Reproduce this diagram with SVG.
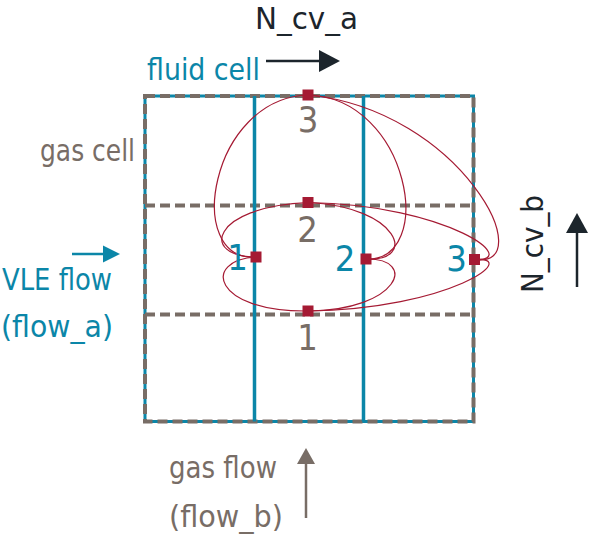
<svg xmlns="http://www.w3.org/2000/svg" width="589" height="538" viewBox="0 0 589 538">
<defs>
<style>
.lbl{font-family:"DejaVu Sans Condensed","DejaVu Sans","Liberation Sans",sans-serif;font-stretch:condensed;font-size:31px}
.dig{font-family:"DejaVu Sans Condensed","DejaVu Sans","Liberation Sans",sans-serif;font-stretch:condensed;font-size:36px;text-anchor:middle}
.gray{fill:#786d66}
.blue{fill:#0b86a8}
.dark{fill:#1c252c}
.node{fill:#a51a33}
.link{fill:none;stroke:#a51a33;stroke-width:1.2}
.dash{fill:none;stroke:#786d66;stroke-width:4;stroke-dasharray:10 5}
.fl{fill:none;stroke:#0b86a8;stroke-width:3.5}
</style>
</defs>
<rect width="589" height="538" fill="#ffffff"/>

<g id="grid">
<rect x="145" y="96" width="328.5" height="325.5" fill="none" stroke="#0b86a8" stroke-width="3"/>
<line class="dash" x1="145" y1="205.5" x2="473.5" y2="205.5"/>
<line class="dash" x1="145" y1="314.5" x2="473.5" y2="314.5"/>
<rect class="dash" x="145" y="96" width="328.5" height="325.5" stroke-width="4.5" stroke-dasharray="10 4"/>
<line class="fl" x1="254.5" y1="96" x2="254.5" y2="421.5"/>
<line class="fl" x1="363.5" y1="96" x2="363.5" y2="421.5"/>
</g>

<g id="connectors">
<path class="link" d="M308,95 C210,98 183,262 256,257"/>
<path class="link" d="M308,202.5 C210,207 200,257 256,257"/>
<path class="link" d="M308,311 C212,312 202,260 256,257"/>
<path class="link" d="M308,95 C410,98 437,262 366,259"/>
<path class="link" d="M308,202.5 C400,207 418,262 366,259"/>
<path class="link" d="M308,311 C400,310 418,258 366,259"/>
<path class="link" d="M308,95 C462,110 542,270 474.5,259.5"/>
<path class="link" d="M308,202.5 C450,205 522,262 474.5,259.5"/>
<path class="link" d="M308,311 C450,309 522,256 474.5,259.5"/>
</g>

<g id="gas-node-3"><rect class="node" x="302.5" y="89.5" width="11" height="11"/><text class="dig gray" x="308" y="132">3</text></g>
<g id="gas-node-2"><rect class="node" x="302.5" y="197" width="11" height="11"/><text class="dig gray" x="307.5" y="242">2</text></g>
<g id="gas-node-1"><rect class="node" x="302.5" y="305.5" width="11" height="11"/><text class="dig gray" x="307.5" y="350">1</text></g>
<g id="fluid-node-1"><rect class="node" x="250.5" y="251.5" width="11" height="11"/><text class="dig blue" x="237.5" y="270">1</text></g>
<g id="fluid-node-2"><rect class="node" x="360.5" y="253.5" width="11" height="11"/><text class="dig blue" x="345" y="271">2</text></g>
<g id="fluid-node-3"><rect class="node" x="469" y="254" width="11" height="11"/><text class="dig blue" x="456.5" y="271">3</text></g>

<g id="label-ncv-a">
<text class="lbl dark" x="255" y="29" textLength="103" lengthAdjust="spacingAndGlyphs">N_cv_a</text>
<line x1="266" y1="61" x2="322" y2="61" stroke="#1c252c" stroke-width="2.5"/>
<polygon points="340,61 319,50 319,72" fill="#1c252c"/>
</g>
<g id="label-fluid-cell"><text class="lbl blue" x="147" y="80" textLength="113" lengthAdjust="spacingAndGlyphs">fluid cell</text></g>
<g id="label-gas-cell"><text class="lbl gray" x="40" y="161" textLength="95" lengthAdjust="spacingAndGlyphs">gas cell</text></g>
<g id="label-vle-flow">
<line x1="72" y1="254" x2="105" y2="254" stroke="#0b86a8" stroke-width="2.5"/>
<polygon points="120,254 103,245.5 103,262.5" fill="#0b86a8"/>
<text class="lbl blue" x="2" y="290" textLength="110" lengthAdjust="spacingAndGlyphs">VLE flow</text>
<text class="lbl blue" x="1" y="337" textLength="112" lengthAdjust="spacingAndGlyphs">(flow_a)</text>
</g>
<g id="label-ncv-b">
<text class="lbl dark" transform="translate(543,293) rotate(-90)" x="0" y="0" textLength="98" lengthAdjust="spacingAndGlyphs">N_cv_b</text>
<line x1="577" y1="287" x2="577" y2="230" stroke="#1c252c" stroke-width="2.5"/>
<polygon points="577,213 566,233 588,233" fill="#1c252c"/>
</g>
<g id="label-gas-flow">
<text class="lbl gray" x="169" y="478" textLength="108" lengthAdjust="spacingAndGlyphs">gas flow</text>
<text class="lbl gray" x="169" y="527" textLength="114" lengthAdjust="spacingAndGlyphs">(flow_b)</text>
<line x1="306" y1="518" x2="306" y2="460" stroke="#786d66" stroke-width="2.5"/>
<polygon points="306,448 297,464 315,464" fill="#786d66"/>
</g>
</svg>
